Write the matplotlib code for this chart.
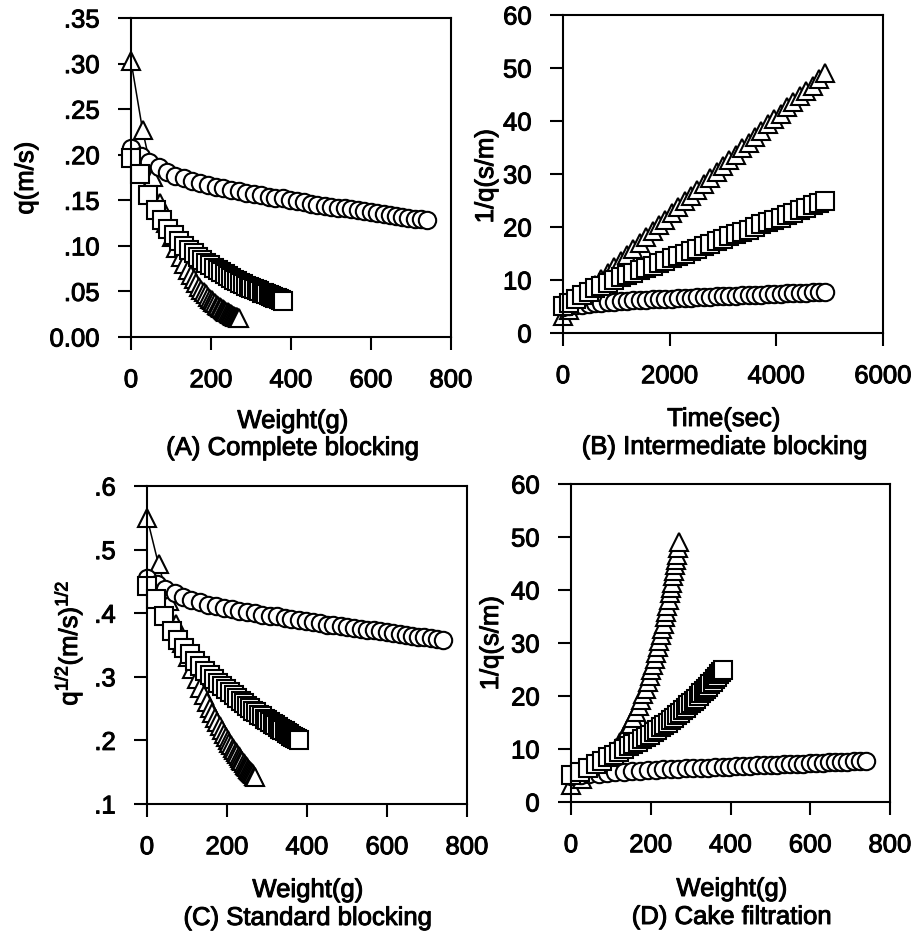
import matplotlib
matplotlib.use('Agg')
import matplotlib.pyplot as plt
import matplotlib.patheffects as pe
import numpy as np

plt.rcParams['font.family'] = ['Liberation Sans', 'DejaVu Sans']
plt.rcParams['mathtext.default'] = 'regular'

# ---------------- data ----------------
# sampling times (s), same for the three runs
time_s = [0, 120, 240, 360, 480, 600, 720, 840, 960, 1080, 1200, 1320, 1440, 1560,
          1680, 1800, 1920, 2040, 2160, 2280, 2400, 2520, 2640, 2760, 2880, 3000,
          3120, 3240, 3360, 3480, 3600, 3720, 3840, 3960, 4080, 4200, 4320, 4440,
          4560, 4680, 4800, 4920]

# circles
w_circ = [0, 24, 46, 69, 91, 111, 132, 153, 172, 192, 212, 231, 251, 269, 288, 307,
          325, 344, 361, 380, 397, 415, 432, 450, 466, 484, 501, 517, 534, 550, 567,
          583, 600, 615, 632, 647, 663, 678, 693, 709, 724, 740]
q_circ = [.207, .199, .192, .186, .181, .177, .174, .171, .169, .167, .165, .163, .161,
          .160, .158, .157, .156, .154, .153, .152, .150, .149, .148, .146, .145, .144,
          .143, .142, .141, .140, .139, .138, .137, .136, .135, .134, .133, .132, .131,
          .130, .129, .128]

# squares
w_sq = [0, 23.0, 43.5, 61.6, 78.0, 93.1, 107.2, 120.5, 133.1, 145.1, 156.6, 167.6,
        178.2, 188.4, 198.2, 207.7, 216.9, 225.7, 234.3, 242.6, 250.7, 258.5, 266.1,
        273.5, 280.7, 287.7, 294.5, 301.2, 307.7, 314.1, 320.3, 326.4, 332.3, 338.1,
        343.8, 349.4, 354.9, 360.2, 365.4, 370.5, 375.5, 380.4]
q_sq = [.1961, .1786, .1563, .1389, .1282, .1190, .1124, .1053, .1000, .0952, .0917,
        .0877, .0847, .0813, .0787, .0758, .0735, .0709, .0690, .0667, .0649, .0629,
        .0610, .0595, .0578, .0565, .0549, .0538, .0524, .0513, .0500, .0488, .0478,
        .0467, .0459, .0448, .0441, .0431, .0424, .0415, .0408, .0400]

# triangles
w_tri = [0, 28.8, 54.7, 72.3, 88.6, 101.4, 112.9, 124.0, 133.2, 141.6, 149.4, 156.6,
         163.3, 170.2, 176.1, 181.7, 187.0, 192.4, 197.2, 201.7, 206.0, 210.2, 214.2,
         218.0, 221.7, 225.6, 229.0, 232.4, 235.6, 238.7, 241.7, 244.6, 247.7, 250.3,
         252.9, 255.6, 258.1, 260.4, 262.8, 264.8, 267.3, 269.8]
q_tri = [.3030, .2273, .1754, .1471, .1250, .1099, .0980, .0877, .0800, .0735, .0680,
         .0633, .0592, .0552, .0521, .0493, .0467, .0442, .0422, .0403, .0386, .0370,
         .0356, .0342, .0330, .0317, .0307, .0297, .0287, .0279, .0270, .0262, .0254,
         .0248, .0242, .0235, .0229, .0224, .0219, .0215, .0209, .0204]

# tick labels
a_yticks = [0.0, .05, .10, .15, .20, .25, .30, .35]
a_ylabels = ['0.00', '.05', '.10', '.15', '.20', '.25', '.30', '.35']
c_yticks = [.1, .2, .3, .4, .5, .6]
c_ylabels = ['.1', '.2', '.3', '.4', '.5', '.6']
w_ticks = [0, 200, 400, 600, 800]
t_ticks = [0, 2000, 4000, 6000]
r_ticks = [0, 10, 20, 30, 40, 50, 60]

# ---------------- figure ----------------
W, H = 916, 935
fig = plt.figure(figsize=(W / 100, H / 100), dpi=100)
FS = 18.5
THICK = [pe.withStroke(linewidth=0.7, foreground='black')]


def make_ax(left, right, top, bottom):
    return fig.add_axes([left / W, (H - bottom) / H, (right - left) / W, (bottom - top) / H])


def style(ax, xlim, ylim, xt, yt, ylabels=None):
    ax.set_xlim(*xlim)
    ax.set_ylim(*ylim)
    ax.set_xticks(xt)
    ax.set_yticks(yt)
    if ylabels is not None:
        ax.set_yticklabels(ylabels)
    for s in ax.spines.values():
        s.set_linewidth(1.5)
    ax.tick_params(direction='out', length=9.5, width=1.5, pad=13, labelsize=FS,
                   top=False, right=False)
    for lab in ax.get_xticklabels() + ax.get_yticklabels():
        lab.set_path_effects(THICK)


def draw(ax, xs, ys):
    kw = dict(color='black', lw=1.1, ms=12.5, mfc='white', mec='black', mew=1.5,
              clip_on=False)
    ax.plot(xs[2], ys[2], marker='^', **kw)
    ax.plot(xs[0], ys[0], marker='o', **kw)
    ax.plot(xs[1], ys[1], marker='s', **kw)


qc, qs, qt = np.array(q_circ), np.array(q_sq), np.array(q_tri)

# (A) complete blocking: q vs weight
axA = make_ax(131, 451, 18, 337)
draw(axA, [w_circ, w_sq, w_tri], [qc, qs, qt])
style(axA, (0, 800), (0, .35), w_ticks, a_yticks, a_ylabels)

# (B) intermediate blocking: 1/q vs time
axB = make_ax(563, 883, 15, 333)
draw(axB, [time_s, time_s, time_s], [1 / qc, 1 / qs, 1 / qt])
style(axB, (0, 6000), (0, 60), t_ticks, r_ticks)

# (C) standard blocking: q^1/2 vs weight
axC = make_ax(147, 467, 486, 804)
draw(axC, [w_circ, w_sq, w_tri], [np.sqrt(qc), np.sqrt(qs), np.sqrt(qt)])
style(axC, (0, 800), (.1, .6), w_ticks, c_yticks, c_ylabels)

# (D) cake filtration: 1/q vs weight
axD = make_ax(571, 890, 484, 802)
draw(axD, [w_circ, w_sq, w_tri], [1 / qc, 1 / qs, 1 / qt])
style(axD, (0, 800), (0, 60), w_ticks, r_ticks)


def ftext(x, y, s, **kw):
    fig.text(x / W, 1 - y / H, s, fontsize=FS, ha='center', va='center',
             path_effects=THICK, **kw)


# x labels and captions
ftext(293, 421, 'Weight(g)')
ftext(293, 448, '(A) Complete blocking')
ftext(724, 419, 'Time(sec)')
ftext(725, 447, '(B) Intermediate blocking')
ftext(308, 890, 'Weight(g)')
ftext(308, 918, '(C) Standard blocking')
ftext(732, 889, 'Weight(g)')
ftext(732, 917, '(D) Cake filtration')

# y labels
ftext(26, 178, 'q(m/s)', rotation=90)
ftext(486, 176, '1/q(s/m)', rotation=90)
ftext(68, 643, 'q$^{1/2}$(m/s)$^{1/2}$', rotation=90)
ftext(491, 643, '1/q(s/m)', rotation=90)

fig.savefig('out.png', dpi=100)
